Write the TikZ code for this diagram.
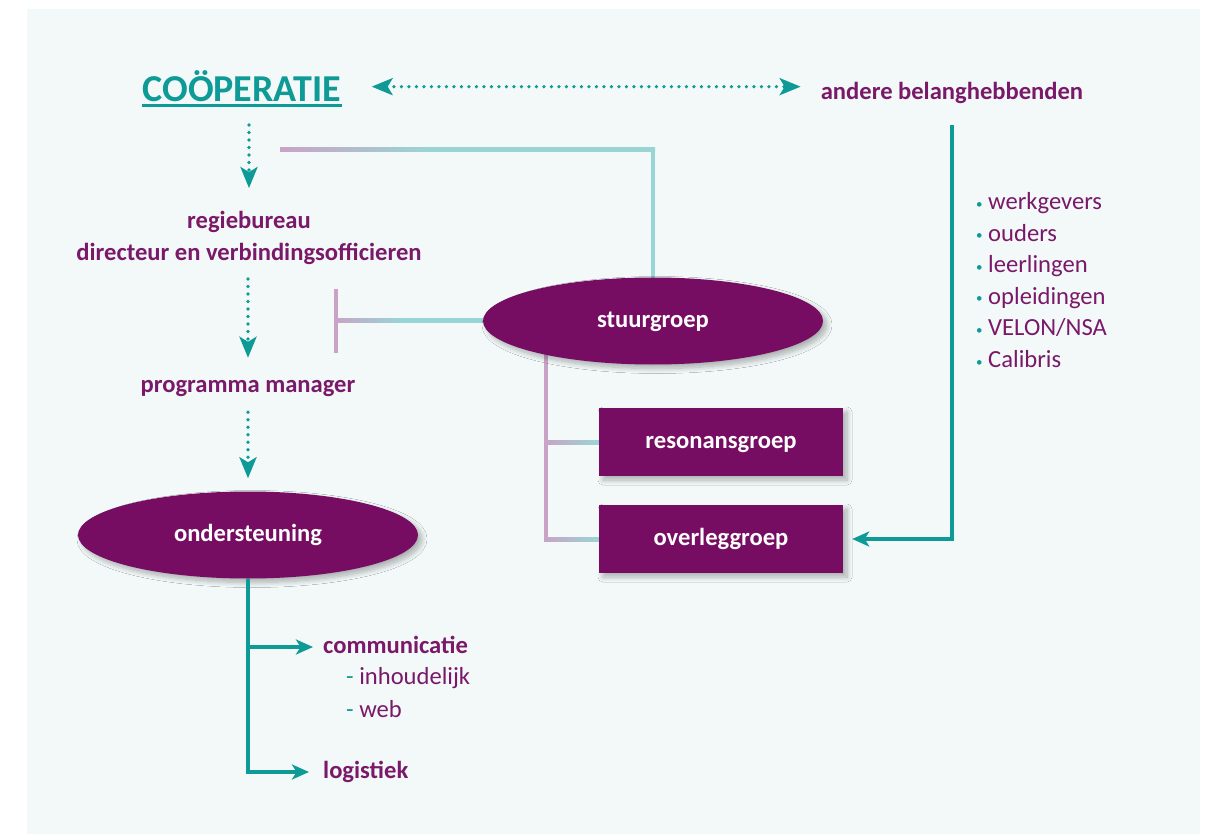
\documentclass[tikz,border=0pt]{standalone}
\usepackage{fontspec}
\setmainfont{Carlito}
\usetikzlibrary{positioning,calc,arrows.meta,shapes.geometric,shadows.blur,backgrounds}

\definecolor{plum}{HTML}{760D62}
\definecolor{plumtext}{HTML}{7A1869}
\definecolor{sea}{HTML}{0E9A96}
\definecolor{lsea}{HTML}{9AD5D5}
\definecolor{lplum}{HTML}{C9A3C6}
\definecolor{panel}{HTML}{F3F9F9}

\pgfdeclarehorizontalshading{plumsea}{100bp}{color(0bp)=(lplum); color(25bp)=(lplum); color(45bp)=(lsea); color(100bp)=(lsea)}

\begin{document}
\begin{tikzpicture}[x=1pt,y=-1pt,
lbl/.style={
  font=\fontsize{24.6}{32}\selectfont\bfseries,
  text=plumtext,
  inner sep=0,
  text height=17pt,
  text depth=5pt
  },
txt/.style={
  lbl,
  font=\fontsize{24.6}{32}\selectfont
  },
coop/.style={
  font=\fontsize{38}{40}\selectfont\bfseries,
  text=sea,
  inner sep=0,
  anchor=base
  },
blob/.style={
  ellipse,
  fill=plum,
  text=white,
  font=\fontsize{24.6}{32}\selectfont\bfseries,
  minimum width=340pt,
  minimum height=87pt,
  inner sep=0,
  text height=17pt,
  text depth=5pt,
  blur shadow={shadow xshift=4pt,shadow yshift=-4pt,shadow blur radius=5pt,shadow blur steps=10,shadow opacity=30}
  },
grp/.style={
  blob,
  rectangle,
  minimum width=244pt,
  minimum height=68pt
  },
dotarrow/.style={
  sea,
  line width=3.7pt,
  line cap=round,
  dash pattern=on 0pt off 7.5pt,
  -{Stealth[length=21pt,width=17pt,inset=5pt]}
  },
sealine/.style={
  sea,
  line width=3.5pt,
  -{Stealth[length=17pt,width=15pt,inset=4.5pt]}
  },
lsealine/.style={lsea,line width=4pt},
lplumline/.style={lplum,line width=4pt},
>=Stealth]

% left column
\node[coop] (coop) at (242,102) {COÖPERATIE};
\draw[sea,line width=3pt] ([yshift=-4pt]coop.base west) -- ([yshift=-4pt]coop.base east);
\node[lbl,text height=,text depth=,align=center] (regie) at (249,238)
  {regiebureau\\directeur en verbindingsofficieren};
\node[lbl] (pm) at (248,386) {programma manager};
\node[blob] (ond) at (248,535) {ondersteuning};

\draw[dotarrow,shorten <=23pt,shorten >=23pt] (regie.north |- coop.base) -- (regie.north);
\draw[dotarrow,shorten <=14pt,shorten >=17pt] (pm.north |- regie.south) -- (pm.north);
\draw[dotarrow,shorten <=15pt,shorten >=13pt] (pm.south) -- (ond.north);

\node[lbl,anchor=west] (comm) at (323,647) {communicatie};
\node[txt,anchor=west] (inh) at (346,678) {\textcolor{sea}{-} inhoudelijk};
\node[txt,anchor=west] (web) at (346,711) {\textcolor{sea}{-} web};
\node[lbl,anchor=west] (logi) at (323,772) {logistiek};

\draw[sealine,shorten >=14pt] (ond.south) |- (logi.west);
\draw[sealine,shorten >=10pt] (ond.south |- comm.west) -- (comm.west);

% middle
\node[blob] (stuur) at (653,321) {stuurgroep};
\node[grp] (reson) at (721,442) {resonansgroep};
\node[grp] (overleg) at (721,539) {overleggroep};

% right side
\node[lbl,anchor=base] (belang) at (952,100) {andere belanghebbenden};
\draw[dotarrow,{Stealth[length=21pt,width=17pt,inset=5pt]}-{Stealth[length=21pt,width=17pt,inset=5pt]},
  shorten <=30pt,shorten >=20pt] (coop.east) -- (coop.east -| belang.west);

\foreach \grp [count=\i] in {werkgevers,ouders,leerlingen,opleidingen,VELON/NSA,Calibris}
  \node[txt,anchor=base west,text height=,text depth=] (stake\i) at (976,178+31.6*\i)
    {\textcolor{sea}{\raisebox{1.5pt}{\fontsize{13}{13}\selectfont\textbullet}}\ \grp};

\draw[sealine,shorten >=9pt] ([yshift=-25pt]belang.base) |- (overleg.east);

% connectors of the stuurgroep
\begin{scope}[on background layer]
\fill[panel] (27,9) rectangle (1200,834);
\coordinate (corner) at (stuur.north |- 0,150);
\coordinate (topend) at (280,150);
\coordinate (tick) at (336,321);
\coordinate (fork) at ([xshift=-107pt]stuur.center);
\draw[lsealine] (stuur.center) -- ($(corner)+(0,-2)$);
\shade[shading=plumsea] ($(topend)+(0,-2)$) rectangle ($(corner)+(2,2)$);
\draw[lplumline] ($(tick)+(0,-32)$) -- ($(tick)+(0,32)$);
\shade[shading=plumsea] ($(tick)+(-2,-2)$) rectangle ($(stuur.west)+(20,2)$);
\draw[lplumline] (fork) -- ($(fork |- overleg.west)+(0,2)$);
\shade[left color=lplum,right color=lsea] ($(fork |- reson.west)+(-2,-2)$) rectangle ($(reson.west)+(0,2)$);
\shade[left color=lplum,right color=lsea] ($(fork |- overleg.west)+(-2,-2)$) rectangle ($(overleg.west)+(0,2)$);
\end{scope}

\useasboundingbox (0,0) rectangle (1213,834);
\end{tikzpicture}
\end{document}
